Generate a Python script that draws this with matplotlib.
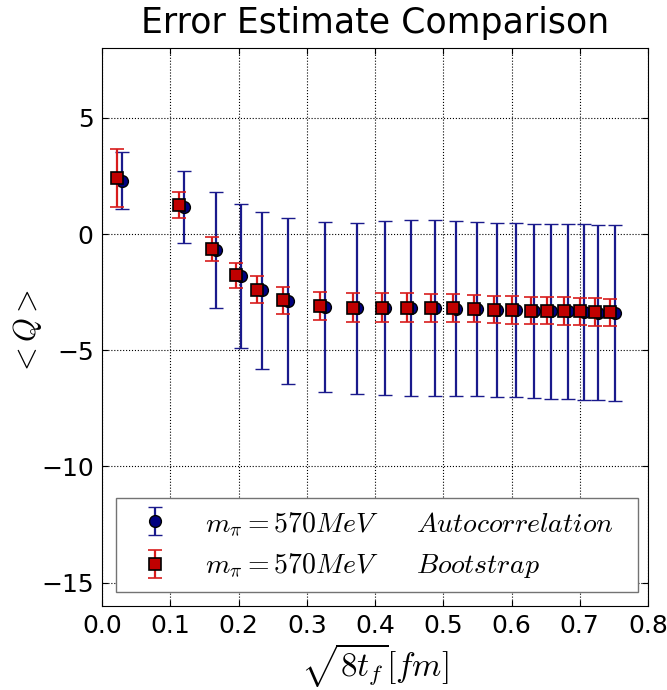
import matplotlib
matplotlib.use("Agg")
import matplotlib.pyplot as plt
import numpy as np

plt.rcParams['mathtext.fontset'] = 'cm'
plt.rcParams['font.family'] = ['DejaVu Sans']

# Autocorrelation (blue circles)
x_auto = [0.0288, 0.1205, 0.167, 0.203, 0.234, 0.272, 0.3265, 0.374, 0.415, 0.452,
          0.4876, 0.519, 0.550, 0.579, 0.607, 0.633, 0.658, 0.683, 0.706, 0.727, 0.7515]
y_auto = [2.30, 1.155, -0.68, -1.81, -2.425, -2.875, -3.13, -3.195, -3.185, -3.17,
          -3.195, -3.21, -3.23, -3.255, -3.28, -3.31, -3.325, -3.33, -3.35, -3.375, -3.39]
e_auto = [1.22, 1.545, 2.50, 3.09, 3.365, 3.565, 3.65, 3.695, 3.745, 3.78,
          3.785, 3.77, 3.75, 3.735, 3.74, 3.74, 3.755, 3.76, 3.77, 3.765, 3.78]

# Bootstrap (red squares)
x_boot = [0.0224, 0.113, 0.161, 0.196, 0.2265, 0.2655, 0.320, 0.368, 0.4095, 0.447,
          0.4817, 0.514, 0.545, 0.574, 0.601, 0.628, 0.6526, 0.677, 0.701, 0.723, 0.745]
y_boot = [2.40, 1.24, -0.65, -1.77, -2.39, -2.84, -3.085, -3.16, -3.16, -3.16,
          -3.17, -3.19, -3.21, -3.245, -3.265, -3.29, -3.29, -3.31, -3.33, -3.35, -3.36]
e_boot = [1.25, 0.56, 0.52, 0.54, 0.57, 0.585, 0.60, 0.61, 0.61, 0.61,
          0.60, 0.60, 0.59, 0.585, 0.59, 0.585, 0.585, 0.59, 0.585, 0.59, 0.585]

label_auto = r'$m_\pi = 570 MeV \quad\;\;\; Autocorrelation$'
label_boot = r'$m_\pi = 570 MeV \quad\;\;\; Bootstrap$'

fig = plt.figure(figsize=(6.67, 6.90), dpi=100)
ax = fig.add_axes([0.153, 0.122, 0.8185, 0.808])

ax.errorbar(x_auto, y_auto, yerr=e_auto, fmt='o', color='#000080', ecolor='#1a1a8c',
            mec='black', mew=1.0, ms=8.5, elinewidth=1.6, capsize=5, capthick=1.6,
            label=label_auto, zorder=3)
ax.errorbar(x_boot, y_boot, yerr=e_boot, fmt='s', color='#c00000', ecolor='#d81c1c',
            mec='black', mew=1.2, ms=8.5, elinewidth=1.6, capsize=5, capthick=1.6,
            label=label_boot, zorder=4)

ax.set_xlim(0.0, 0.8)
ax.set_ylim(-16, 8)
ax.set_xticks(np.arange(0, 0.81, 0.1))
ax.set_yticks([-15, -10, -5, 0, 5])
ax.tick_params(direction='in', top=True, right=True, labelsize=18, length=4, pad=6)
ax.grid(True, color='black', linestyle=':', linewidth=0.8)
ax.set_axisbelow(True)

ax.set_title('Error Estimate Comparison', fontsize=25, pad=11)
ax.set_xlabel(r'$\sqrt{8t_f}[fm]$', fontsize=24, labelpad=2)
ax.set_ylabel(r'$<Q>$', fontsize=22)
ax.yaxis.set_label_coords(-0.106, 0.49)

leg = ax.legend(loc='lower left', bbox_to_anchor=(0.0256, 0.0256, 0.956, 0.2),
                mode='expand', numpoints=1, fontsize=20, fancybox=False,
                framealpha=1.0, edgecolor='0.45', borderaxespad=0.0,
                handletextpad=0.8, borderpad=0.4, handlelength=2.0)
leg.get_frame().set_linewidth(1.0)

fig.savefig('out.png', dpi=100)
